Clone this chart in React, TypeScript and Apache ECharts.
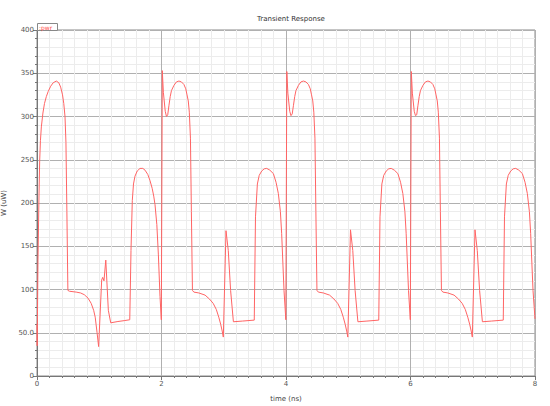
import React, { useEffect, useRef } from "react";
import * as echarts from "echarts";

// Cycle 0 (0 – 2 ns)
const time0 = [0, 0.003, 0.016, 0.03, 0.043, 0.055, 0.07, 0.095, 0.12, 0.15, 0.18, 0.22, 0.26, 0.31, 0.35, 0.38, 0.41, 0.43, 0.45, 0.465, 0.48, 0.496, 0.52, 0.63, 0.70, 0.76, 0.82, 0.87, 0.91, 0.935, 0.965, 0.99, 1.039, 1.055, 1.076, 1.105, 1.146, 1.184, 1.3, 1.4, 1.49, 1.51, 1.531, 1.55, 1.574, 1.61, 1.655, 1.70, 1.735, 1.78, 1.815, 1.85, 1.875, 1.896, 1.925, 1.95, 1.976, 1.997];
const power0 = [60, 35, 134, 200, 249, 272, 288, 304, 315, 323, 329, 335, 339, 341, 339, 334, 325, 315, 300, 270, 190, 99, 98, 97, 96, 94, 90, 84, 76, 68, 50, 34, 111, 114, 110, 134, 76, 61.5, 63, 64, 65, 145, 203, 222, 231, 237, 240, 240, 238, 233, 226, 217, 208, 198, 175, 140, 92, 65];

// Cycle 1 (2 – 4 ns)
const time1 = [2.013, 2.03, 2.06, 2.08, 2.10, 2.12, 2.14, 2.16, 2.20, 2.24, 2.28, 2.32, 2.36, 2.39, 2.41, 2.43, 2.447, 2.465, 2.48, 2.497, 2.52, 2.60, 2.70, 2.77, 2.83, 2.88, 2.92, 2.95, 2.975, 2.993, 3.036, 3.073, 3.11, 3.155, 3.3, 3.49, 3.51, 3.54, 3.57, 3.61, 3.65, 3.69, 3.74, 3.797, 3.84, 3.877, 3.91, 3.93, 3.968, 3.997];
const power1 = [353, 328, 306, 300, 302, 313, 323, 330, 336, 340, 341, 340, 337, 332, 325, 318, 305, 275, 190, 99, 97, 96, 93.5, 89, 84, 77, 68, 60, 52, 45, 168, 145, 99, 62.7, 63.5, 64.6, 184, 222, 232, 237, 239.5, 240, 238, 234, 224, 211, 190, 165, 99, 65];

// Cycle 2 (4 – 6 ns)
const time2 = [4.013, 4.03, 4.06, 4.08, 4.10, 4.12, 4.14, 4.16, 4.20, 4.24, 4.28, 4.32, 4.36, 4.39, 4.41, 4.43, 4.447, 4.465, 4.48, 4.497, 4.52, 4.60, 4.70, 4.77, 4.83, 4.88, 4.92, 4.95, 4.975, 4.993, 5.036, 5.073, 5.11, 5.155, 5.3, 5.49, 5.51, 5.54, 5.57, 5.61, 5.65, 5.69, 5.74, 5.797, 5.84, 5.877, 5.91, 5.93, 5.968, 5.997];
const power2 = [352, 327, 306, 301, 303, 313, 323, 330, 336, 340, 341, 340, 337, 332, 325, 318, 305, 275, 190, 99, 97, 96, 93.5, 89, 84, 77, 68, 60, 52, 45, 169, 145, 99, 62.7, 63.5, 64.6, 184, 222, 232, 237, 239.5, 240, 238, 234, 224, 211, 190, 165, 99, 65];

// Cycle 3 (6 – 8 ns)
const time3 = [6.013, 6.03, 6.06, 6.08, 6.10, 6.12, 6.14, 6.16, 6.20, 6.24, 6.28, 6.32, 6.36, 6.39, 6.41, 6.43, 6.447, 6.465, 6.48, 6.497, 6.52, 6.60, 6.70, 6.77, 6.83, 6.88, 6.92, 6.95, 6.975, 6.993, 7.036, 7.073, 7.11, 7.155, 7.3, 7.49, 7.51, 7.54, 7.57, 7.61, 7.65, 7.69, 7.74, 7.797, 7.84, 7.877, 7.91, 7.93, 7.968, 8.0];
const power3 = [352, 327, 306, 301, 302, 313, 323, 330, 336, 340, 341, 340, 337, 332, 325, 318, 305, 275, 190, 99, 97, 96, 93.5, 89, 84, 77, 68, 60, 52, 45, 169, 145, 99, 62.7, 63.5, 64.6, 184, 222, 232, 237, 239.5, 240, 238, 234, 224, 211, 190, 165, 99, 66];

const yTicks = [0, 50, 100, 150, 200, 250, 300, 350, 400];
const yTickLabels = ["0", "50.0", "100", "150", "200", "250", "300", "350", "400"];

const FONT = "DejaVu Sans";

export default function App() {
  const ref = useRef<HTMLDivElement>(null);
  useEffect(() => {
    if (!ref.current) return;
    const chart = echarts.init(ref.current, undefined, { renderer: "svg" });
    const times = [...time0, ...time1, ...time2, ...time3];
    const powers = [...power0, ...power1, ...power2, ...power3];
    const data = times.map((t, i) => [t, powers[i]]);
    chart.setOption({
      animation: false,
      backgroundColor: "#ffffff",
      title: {
        text: "Transient Response",
        left: 286,
        top: 10,
        textAlign: "center",
        textStyle: { fontFamily: FONT, fontSize: 7, fontWeight: "normal", color: "#333" },
      },
      grid: {
        left: 37,
        right: 15,
        top: 30,
        bottom: 30,
        containLabel: false,
        outerBoundsMode: "none",
        show: true,
        borderColor: "#8a8a8a",
        borderWidth: 1,
        backgroundColor: "#ffffff",
      },
      xAxis: {
        type: "value",
        min: 0,
        max: 8,
        interval: 2,
        name: "time (ns)",
        nameLocation: "middle",
        nameGap: 19,
        nameTextStyle: { fontFamily: FONT, fontSize: 7, color: "#444" },
        axisLine: { show: true, lineStyle: { color: "#777" } },
        axisTick: { show: true, length: 4, lineStyle: { color: "#777" } },
        minorTick: { show: true, splitNumber: 10, length: 2, lineStyle: { color: "#777" } },
        axisLabel: { fontFamily: FONT, fontSize: 7, color: "#555", margin: 4 },
        splitLine: { show: true, lineStyle: { color: "#b0b0b0", width: 1 } },
        minorSplitLine: { show: true, lineStyle: { color: "#ececec", width: 1 } },
      },
      yAxis: {
        type: "value",
        min: 0,
        max: 400,
        interval: 50,
        name: "W (uW)",
        nameLocation: "middle",
        nameGap: 23,
        nameRotate: 90,
        nameTextStyle: { fontFamily: FONT, fontSize: 7, color: "#444" },
        axisLine: { show: true, lineStyle: { color: "#777" } },
        axisTick: { show: true, length: 4, lineStyle: { color: "#777" } },
        minorTick: { show: true, splitNumber: 5, length: 2, lineStyle: { color: "#777" } },
        axisLabel: {
          fontFamily: FONT,
          fontSize: 7,
          color: "#555",
          margin: 3,
          formatter: (v: number) => {
            const i = yTicks.indexOf(v);
            return i >= 0 ? yTickLabels[i] : String(v);
          },
        },
        splitLine: { show: true, lineStyle: { color: "#b0b0b0", width: 1 } },
        minorSplitLine: { show: true, lineStyle: { color: "#ececec", width: 1 } },
      },
      graphic: [
        {
          type: "rect",
          shape: { x: 37.5, y: 23.5, width: 20, height: 7 },
          style: { fill: "#ffffff", stroke: "#888", lineWidth: 1 },
          z: 100,
        },
        {
          type: "text",
          x: 39,
          y: 24.5,
          style: { text: ":pwr", fill: "#ff4a4a", font: `6px ${FONT}` },
          z: 101,
        },
      ],
      series: [
        {
          name: "pwr",
          type: "line",
          data,
          showSymbol: false,
          symbol: "none",
          smooth: false,
          lineStyle: { color: "#ff6464", width: 1 },
          clip: true,
        },
      ],
    });
    return () => chart.dispose();
  }, []);
  return (
    <div
      ref={ref}
      style={{ position: "fixed", left: 0, top: 0, width: 550, height: 406 }}
    />
  );
}
